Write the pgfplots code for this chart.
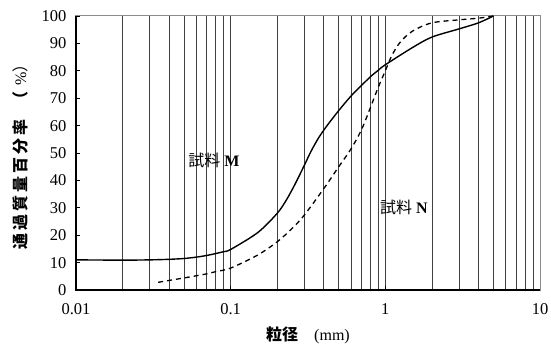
\documentclass[border=0pt]{standalone}
\usepackage{fontspec}
\setmainfont{Liberation Serif}
\newfontfamily\cjk{Noto Sans CJK JP}
\usepackage{pgfplots}
\pgfplotsset{compat=1.18}
\begin{document}
\begin{tikzpicture}
\begin{axis}[
  scale only axis,
  width=464bp, height=274bp,
  xmode=log,
  xmin=0.01, xmax=10,
  ymin=0, ymax=100,
  xtick={0.01,0.1,1,10},
  xticklabels={0.01,0.1,1,10},
  ytick={0,10,...,100},
  minor xtick={0.02,0.03,0.04,0.05,0.06,0.07,0.08,0.09,0.2,0.3,0.4,0.5,0.6,0.7,0.8,0.9,2,3,4,5,6,7,8,9},
  xmajorgrids, xminorgrids,
  major grid style={black!75, line width=0.6bp},
  minor grid style={black!75, line width=0.6bp},
  axis line style={black!45, line width=1bp},
  tick style={black, line width=0.8bp},
  major tick length=4bp, minor tick length=0bp,
  xtick pos=bottom, ytick pos=left,
  tick align=inside,
  tick label style={font=\fontsize{16.5bp}{19bp}\selectfont},
  xticklabel style={yshift=-10bp},
  yticklabel style={xshift=-6bp},
  /pgf/number format/assume math mode=true,
  every axis y label/.style={at={(axis description cs:0,0.5)}, xshift=-56bp, rotate=90, anchor=center, font=\fontsize{16bp}{19bp}\selectfont},
  every axis x label/.style={at={(axis description cs:0.5,0)}, yshift=-45bp, anchor=center, font=\fontsize{16bp}{19bp}\selectfont},
  ylabel={\cjk\bfseries 通\hspace{3bp}過\hspace{3bp}質\hspace{3bp}量\hspace{3bp}百\hspace{3bp}分\hspace{3bp}率\hspace{12bp}（\hspace{6bp}\mdseries\rmfamily\%\cjk）},
  xlabel={{\cjk\bfseries 粒径}\hspace{16bp}(mm)},
  clip=false,
]
\addplot[black, line width=1.4bp, smooth] coordinates {
(0.01,11.0) (0.02,10.9) (0.03,11.0) (0.04,11.2) (0.05,11.5) (0.06,12.0) (0.07,12.6) (0.08,13.3) (0.09,14.0) (0.1,14.8)
(0.15,21) (0.2,28) (0.23,33) (0.26,38.5) (0.3,45.6) (0.33,50.5) (0.37,55.5) (0.42,60) (0.5,65.5) (0.6,70.8) (0.7,74.6) (0.8,77.8) (0.9,80.2) (1.0,82.2)
(1.5,88.5) (2,92.3) (3,95.3) (4,97.5) (5,100)
};
\addplot[black, line width=1.3bp, dash pattern=on 5bp off 4bp, smooth] coordinates {
(0.034,2.8) (0.04,3.5) (0.05,4.4) (0.06,5.2) (0.07,5.9) (0.08,6.7) (0.1,8.0) (0.15,12.8) (0.2,17.6) (0.25,22.5) (0.3,27.4)
(0.4,37) (0.5,45) (0.6,51.5) (0.7,58.4) (0.8,66.5) (0.9,74) (1.0,80) (1.1,85.5) (1.25,90.5) (1.5,94.5) (2,97.5) (3,98.6) (4,99.2) (5,100)
};
\draw[black, line width=1.5bp] (rel axis cs:0,1) -- (rel axis cs:0,0) -- (rel axis cs:1,0);
\node[font=\fontsize{16bp}{19bp}\selectfont] at (axis cs:0.078,47.4) {{\cjk 試料} \textbf{M}};
\node[font=\fontsize{16bp}{19bp}\selectfont] at (axis cs:1.32,30.3) {{\cjk 試料} \textbf{N}};
\end{axis}
\pgfresetboundingbox
\path ([shift={(-76bp,-56bp)}]current axis.south west) rectangle ([shift={(11bp,16bp)}]current axis.north east);
\end{tikzpicture}
\end{document}
